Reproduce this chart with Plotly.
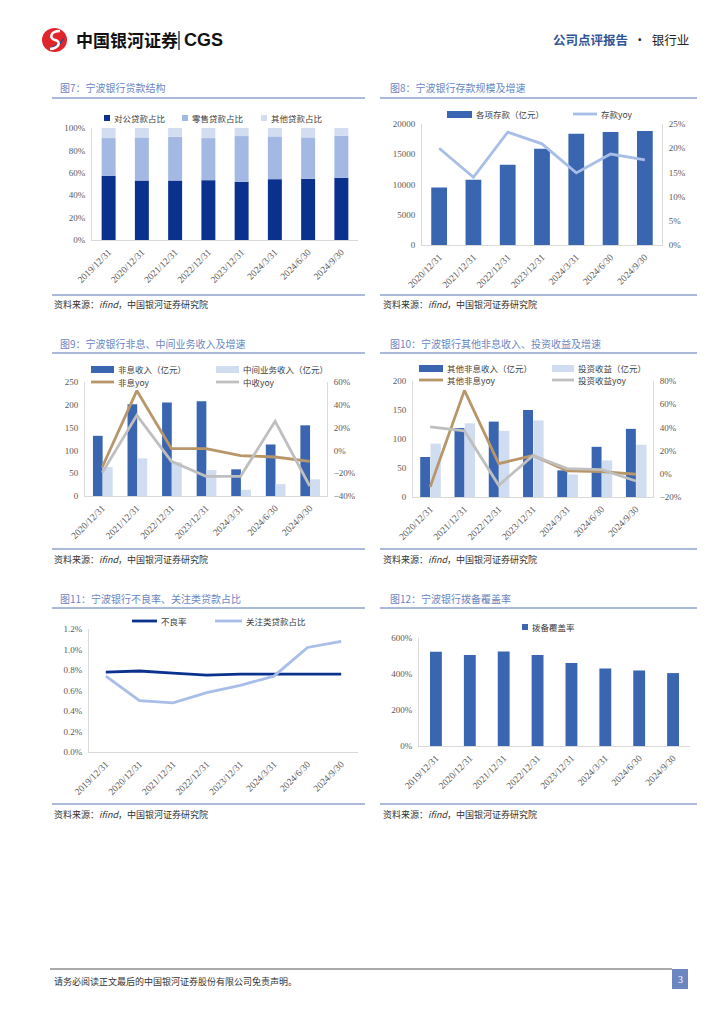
import plotly.graph_objects as go

# page is photographed at 724x1024; the html body adds an 8px margin
PAGE_W, PAGE_H = 724, 1024
OFF = 8
W, H = PAGE_W - OFF, PAGE_H - OFF

# ---------------- data ----------------
cats8 = ['2019/12/31', '2020/12/31', '2021/12/31', '2022/12/31', '2023/12/31', '2024/3/31', '2024/6/30', '2024/9/30']
cats7 = ['2020/12/31', '2021/12/31', '2022/12/31', '2023/12/31', '2024/3/31', '2024/6/30', '2024/9/30']

loan_corp = [0.573, 0.531, 0.531, 0.534, 0.519, 0.543, 0.546, 0.555]
loan_retail = [0.337, 0.385, 0.391, 0.376, 0.409, 0.382, 0.370, 0.376]
loan_other = [0.090, 0.084, 0.078, 0.090, 0.072, 0.075, 0.084, 0.069]

deposits = [9500, 10770, 13260, 15900, 18400, 18670, 18840]
dep_yoy = [0.200, 0.140, 0.233, 0.209, 0.149, 0.188, 0.176]

nonint = [132, 201, 205, 208, 58.5, 113, 155]
fee = [63.5, 82.5, 74, 57, 13.5, 26, 36.5]
nonint_yoy = [-0.146, 0.524, 0.015, 0.015, -0.046, -0.058, -0.096]
fee_yoy = [-0.195, 0.308, -0.096, -0.227, -0.227, 0.255, -0.312]

other_nonint = [69, 119, 130, 150, 46, 86.5, 117.5]
invest = [92, 127, 114, 132, 39, 63, 90]
other_yoy = [-0.114, 0.719, 0.088, 0.157, 0.025, 0.019, -0.004]
invest_yoy = [0.405, 0.370, -0.099, 0.157, 0.045, 0.036, -0.062]

npl = [0.0078, 0.0079, 0.0077, 0.0075, 0.0076, 0.0076, 0.0076, 0.0076]
special = [0.0074, 0.0050, 0.0048, 0.0058, 0.0065, 0.0074, 0.0102, 0.0108]

provision = [5.24, 5.05, 5.25, 5.05, 4.61, 4.31, 4.20, 4.05]

# ---------------- styles ----------------
NAVY = '#0b318f'
RETAIL = '#a3b8e2'
OTHER = '#d3ddf1'
BLUE = '#3a65b0'
LIGHT = '#d0dcf0'
TAN = '#b99669'
GRAY = '#bfbfbf'
LINEBLUE = '#a8bde7'
TITLE_C = '#6a86c2'
RULE_C = '#8fa3cf'
AX_C = '#d9d9d9'
TICK_FONT = dict(family='Liberation Serif, Noto Sans CJK SC', size=9, color='#595959')
XTICK_FONT = dict(family='Liberation Serif, Noto Sans CJK SC', size=9.5, color='#595959')
CJK = 'Noto Sans CJK SC'


def px(x):
    return (x - OFF) / W


def py(y):
    return 1 - (y - OFF) / H


fig = go.Figure()

# ---------- Chart 7: loan structure (stacked) ----------
base2 = [a for a in loan_corp]
base3 = [a + b for a, b in zip(loan_corp, loan_retail)]
for vals, base, col, name in [(loan_corp, None, NAVY, '对公贷款占比'),
                              (loan_retail, base2, RETAIL, '零售贷款占比'),
                              (loan_other, base3, OTHER, '其他贷款占比')]:
    fig.add_trace(go.Bar(x=cats8, y=vals, base=base, marker_color=col, marker_line_width=0,
                         width=0.42, offset=-0.21, name=name, showlegend=False,
                         xaxis='x', yaxis='y'))

# ---------- Chart 8: deposits ----------
fig.add_trace(go.Bar(x=cats7, y=deposits, marker_color=BLUE, marker_line_width=0, width=0.46, offset=-0.23,
                     name='各项存款（亿元）', showlegend=False, xaxis='x2', yaxis='y2'))
fig.add_trace(go.Scatter(x=cats7, y=dep_yoy, mode='lines', line=dict(color=LINEBLUE, width=2.8),
                         name='存款yoy', showlegend=False, xaxis='x2', yaxis='y3'))

# ---------- Chart 9: non-interest & fee income ----------
fig.add_trace(go.Bar(x=cats7, y=nonint, marker_color=BLUE, marker_line_width=0, width=0.28, offset=-0.27,
                     name='非息收入（亿元）', showlegend=False, xaxis='x3', yaxis='y4'))
fig.add_trace(go.Bar(x=cats7, y=fee, marker_color=LIGHT, marker_line_width=0, width=0.29, offset=0.01,
                     name='中间业务收入（亿元）', showlegend=False, xaxis='x3', yaxis='y4'))
fig.add_trace(go.Scatter(x=cats7, y=nonint_yoy, mode='lines', line=dict(color=TAN, width=2.8),
                         name='非息yoy', showlegend=False, xaxis='x3', yaxis='y5'))
fig.add_trace(go.Scatter(x=cats7, y=fee_yoy, mode='lines', line=dict(color=GRAY, width=2.8),
                         name='中收yoy', showlegend=False, xaxis='x3', yaxis='y5'))

# ---------- Chart 10: other non-interest & investment income ----------
fig.add_trace(go.Bar(x=cats7, y=other_nonint, marker_color=BLUE, marker_line_width=0, width=0.29, offset=-0.29,
                     name='其他非息收入（亿元）', showlegend=False, xaxis='x4', yaxis='y6'))
fig.add_trace(go.Bar(x=cats7, y=invest, marker_color=LIGHT, marker_line_width=0, width=0.30, offset=0.01,
                     name='投资收益（亿元）', showlegend=False, xaxis='x4', yaxis='y6'))
fig.add_trace(go.Scatter(x=cats7, y=other_yoy, mode='lines', line=dict(color=TAN, width=2.8),
                         name='其他非息yoy', showlegend=False, xaxis='x4', yaxis='y7'))
fig.add_trace(go.Scatter(x=cats7, y=invest_yoy, mode='lines', line=dict(color=GRAY, width=2.8),
                         name='投资收益yoy', showlegend=False, xaxis='x4', yaxis='y7'))

# ---------- Chart 11: NPL & special mention ----------
fig.add_trace(go.Scatter(x=cats8, y=npl, mode='lines', line=dict(color=NAVY, width=2.8),
                         name='不良率', showlegend=False, xaxis='x5', yaxis='y8'))
fig.add_trace(go.Scatter(x=cats8, y=special, mode='lines', line=dict(color=LINEBLUE, width=2.8),
                         name='关注类贷款占比', showlegend=False, xaxis='x5', yaxis='y8'))

# ---------- Chart 12: provision coverage ----------
fig.add_trace(go.Bar(x=cats8, y=provision, marker_color=BLUE, marker_line_width=0, width=0.35, offset=-0.175,
                     name='拨备覆盖率', showlegend=False, xaxis='x6', yaxis='y9'))


def xax(x0, x1, anchor, n):
    return dict(domain=[px(x0), px(x1)], anchor=anchor, type='category', tickangle=-45,
                tickfont=XTICK_FONT, showline=True, linecolor=AX_C, linewidth=1, ticks='',
                showgrid=False, zeroline=False, range=[-0.5, n - 0.5], fixedrange=True,
                automargin=False, ticklabelstandoff=2)


def yax(ytop, ybot, anchor, rng, dtick, fmt, side='left', overlaying=None):
    d = dict(domain=[py(ybot), py(ytop)], anchor=anchor, range=rng, dtick=dtick, tickformat=fmt,
             tickfont=TICK_FONT, showline=True, linecolor=AX_C, linewidth=1, ticks='',
             showgrid=False, zeroline=False, side=side, ticklabelstandoff=4, automargin=False)
    if overlaying:
        d['overlaying'] = overlaying
    return d


layout = dict(
    template='none',
    width=W, height=H, margin=dict(l=0, r=0, t=0, b=0, autoexpand=False),
    paper_bgcolor='white', plot_bgcolor='rgba(0,0,0,0)', barmode='overlay', showlegend=False,
    xaxis=xax(92, 358, 'y', 8),
    yaxis=yax(128, 240, 'x', [0, 1], 0.2, '.0%'),
    xaxis2=xax(422, 662, 'y2', 7),
    yaxis2=yax(124, 245, 'x2', [0, 20000], 5000, 'd'),
    yaxis3=yax(124, 245, 'x2', [0, 0.25], 0.05, '.0%', side='right', overlaying='y2'),
    xaxis3=xax(85, 327, 'y4', 7),
    yaxis4=yax(382, 496, 'x3', [0, 250], 50, 'd'),
    yaxis5=yax(382, 496, 'x3', [-0.4, 0.6], 0.2, '.0%', side='right', overlaying='y4'),
    xaxis4=xax(413, 653, 'y6', 7),
    yaxis6=yax(381, 497, 'x4', [0, 200], 50, 'd'),
    yaxis7=yax(381, 497, 'x4', [-0.2, 0.8], 0.2, '.0%', side='right', overlaying='y6'),
    xaxis5=xax(89, 358, 'y8', 8),
    yaxis8=yax(629, 752, 'x5', [0, 0.012], 0.002, '.1%'),
    xaxis6=xax(419, 690, 'y9', 8),
    yaxis9=yax(638, 746, 'x6', [0, 6], 2, '.0%'),
)
fig.update_layout(**layout)

shapes = []
annots = []


def hline(x0, x1, y, color, w=1.5):
    shapes.append(dict(type='line', xref='paper', yref='paper', x0=px(x0), x1=px(x1), y0=py(y), y1=py(y),
                       line=dict(color=color, width=w)))


def rect(x0, x1, y0, y1, color):
    shapes.append(dict(type='rect', xref='paper', yref='paper', x0=px(x0), x1=px(x1), y0=py(y1), y1=py(y0),
                       fillcolor=color, line=dict(width=0)))


def text(x, y, s, size=8.5, color='#404040', anchor='left', family=CJK, **kw):
    annots.append(dict(xref='paper', yref='paper', x=px(x), y=py(y), text=s, showarrow=False,
                       xanchor=anchor, yanchor='middle', font=dict(family=family, size=size, color=color), **kw))


# ---- header ----
shapes.append(dict(type='circle', xref='paper', yref='paper', x0=px(42), x1=px(67), y0=py(52), y1=py(28),
                   fillcolor='#e0252b', line=dict(width=0)))
shapes.append(dict(type='path', xref='paper', yref='paper',
                   path='M {} {} Q {} {} {} {} Q {} {} {} {} Z'.format(
                       px(49), py(48), px(60), py(50), px(65), py(36),
                       px(60), py(44), px(49), py(48)),
                   fillcolor='#1d4fa3', line=dict(width=0)))
shapes.append(dict(type='path', xref='paper', yref='paper',
                   path='M {} {} C {} {} {} {} {} {} C {} {} {} {} {} {}'.format(
                       px(60), py(31), px(50), py(31), px(49), py(39), px(55), py(40),
                       px(61), py(41), px(60), py(48), px(50), py(49)),
                   line=dict(color='white', width=2.5)))
text(74, 40, '<b>中国银河证券</b>', size=17, color='#111111')
shapes.append(dict(type='line', xref='paper', yref='paper', x0=px(179), x1=px(179), y0=py(31), y1=py(50),
                   line=dict(color='#111111', width=1.2)))
text(182, 40, '<b>CGS</b>', size=18, color='#111111', family='Liberation Sans, Arial')
text(691, 40, '<span style="color:#2f5597"><b>公司点评报告</b></span>  ·  银行业', size=12.5,
     color='#222222', anchor='right')

# ---- titles, rules, sources ----
titles = [(58, 88, '图7：宁波银行贷款结构'), (388, 88, '图8：宁波银行存款规模及增速'),
          (58, 343, '图9：宁波银行非息、中间业务收入及增速'), (388, 343, '图10：宁波银行其他非息收入、投资收益及增速'),
          (58, 598, '图11：宁波银行不良率、关注类贷款占比'), (388, 598, '图12：宁波银行拨备覆盖率')]
for x, y, s in titles:
    text(x, y, s, size=10, color=TITLE_C)
for y in (98, 353, 608):
    hline(52, 365, y, RULE_C)
    hline(380, 697, y, RULE_C)
for y in (295, 549, 804):
    hline(52, 365, y, RULE_C)
    hline(380, 697, y, RULE_C)
for y in (305, 559, 814):
    text(52, y, '资料来源：<i>ifind</i>，中国银河证券研究院', size=9, color='#333333')
    text(381, y, '资料来源：<i>ifind</i>，中国银河证券研究院', size=9, color='#333333')

# ---- legends ----
# chart 7
for x, col, s in [(104, NAVY, '对公贷款占比'), (182, RETAIL, '零售贷款占比'), (261, OTHER, '其他贷款占比')]:
    rect(x, x + 6, 115, 121, col)
    text(x + 8, 118, s)
# chart 8
rect(447, 472, 111, 118, BLUE)
text(474, 114, '各项存款（亿元）')
hline(573, 597, 114, LINEBLUE, 2.8)
text(599, 114, '存款yoy')
# chart 9
rect(91, 114, 366, 373, BLUE)
text(116, 369, '非息收入（亿元）')
rect(216, 239, 366, 373, LIGHT)
text(241, 369, '中间业务收入（亿元）')
hline(91, 114, 382, TAN, 2.8)
text(116, 382, '非息yoy')
hline(216, 239, 382, GRAY, 2.8)
text(241, 382, '中收yoy')
# chart 10
rect(419, 443, 365, 372, BLUE)
text(445, 368, '其他非息收入（亿元）')
rect(552, 574, 365, 372, LIGHT)
text(576, 368, '投资收益（亿元）')
hline(419, 443, 380, TAN, 2.8)
text(445, 380, '其他非息yoy')
hline(552, 574, 380, GRAY, 2.8)
text(576, 380, '投资收益yoy')
# chart 11
hline(132, 157, 621, NAVY, 2.8)
text(159, 621, '不良率')
hline(215, 242, 621, LINEBLUE, 2.8)
text(244, 621, '关注类贷款占比')
# chart 12
rect(522, 528, 624, 630, BLUE)
text(530, 627, '拨备覆盖率')

# ---- footer ----
hline(50, 672, 969, '#8c8c8c', 1.5)
text(52, 981, '请务必阅读正文最后的中国银河证券股份有限公司免责声明。', size=9, color='#333333')
rect(672, 688, 969, 989, '#6b86c0')
text(680, 979, '3', size=10, color='white', anchor='center', family='Liberation Serif')

fig.update_layout(shapes=shapes, annotations=annots)
fig.write_html('out.html')
